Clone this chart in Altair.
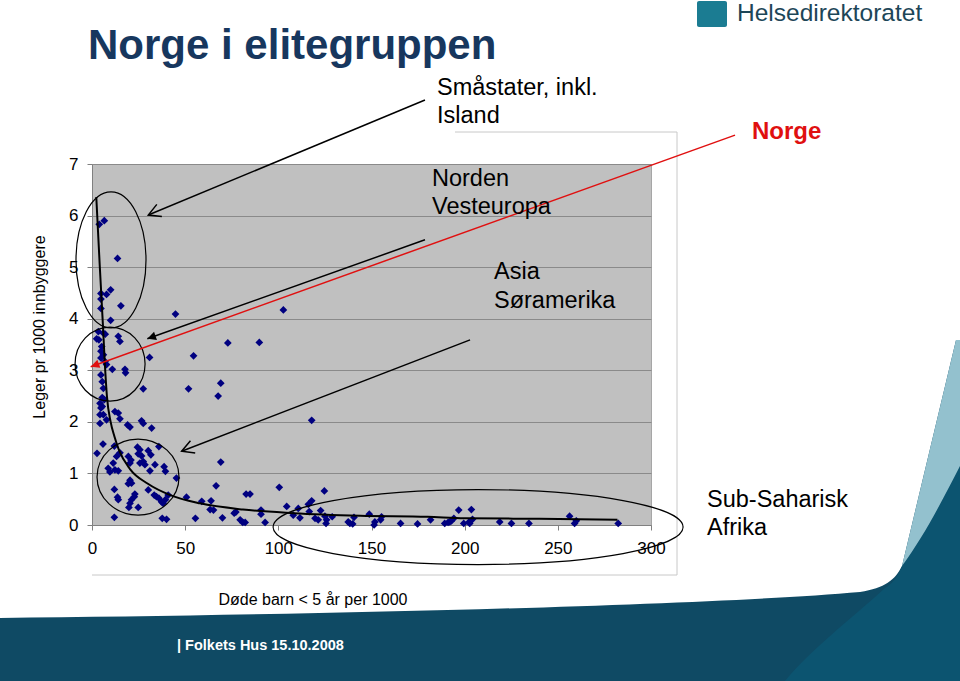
import math
import altair as alt
import pandas as pd

FONT = "Liberation Sans, Arial, Helvetica, sans-serif"

# ---------------- data ----------------
pt_x = [3.9, 6.6, 13.7, 4.8, 7.8, 10.0, 4.8, 4.8, 15.5, 10.0, 44.8, 102.7,
        14.1, 15.0, 30.9, 2.5, 3.7, 5.2, 4.8, 6.1, 4.8, 7.0, 7.8, 10.9, 17.7,
        18.0, 4.8, 5.5, 6.1, 27.5, 5.5, 6.6, 4.3, 5.5, 4.8, 4.3, 6.1, 7.8, 12.3,
        14.1, 15.0, 4.3, 19.1, 20.4, 26.6, 27.5, 32.0, 54.5, 72.9, 89.8, 51.8,
        69.1, 67.7, 117.9, 2.7, 5.9, 69.1, 7.1, 12.0, 15.0, 13.2, 11.4, 8.7,
        9.6, 12.3, 14.1, 19.5, 20.9, 20.4, 24.4, 25.7, 24.8, 26.6, 27.5, 25.7,
        28.4, 30.2, 31.6, 33.8, 35.9, 31.1, 38.7, 39.4, 45.3, 20.4, 21.2, 19.5,
        12.0, 13.7, 14.1, 23.0, 22.7, 21.2, 20.4, 19.8, 24.8, 30.2, 33.4, 34.6,
        35.9, 37.3, 38.2, 40.9, 39.4, 50.7, 12.0, 37.7, 40.0, 55.5, 66.6, 100.5,
        58.9, 63.9, 63.4, 65.2, 70.0, 76.3, 77.2, 79.5, 80.9, 82.2, 82.7, 84.8,
        90.7, 90.7, 92.9, 104.5, 108.0, 110.7, 111.6, 116.1, 117.9, 116.6,
        119.7, 121.4, 122.7, 124.7, 125.0, 125.6, 125.9, 128.9, 137.5, 138.4,
        139.9, 140.6, 148.8, 151.8, 151.4, 154.9, 155.4, 165.6, 174.7, 181.7,
        189.3, 191.1, 192.0, 192.9, 194.2, 196.8, 199.5, 202.4, 203.6, 204.2,
        202.7, 218.8, 225.1, 234.5, 256.3, 259.0, 259.9, 282.4, 3.4, 6.1]
pt_y = [5.83, 5.90, 5.17, 4.49, 4.47, 4.56, 4.38, 4.20, 4.25, 3.97, 4.09, 4.17,
        3.66, 3.56, 3.25, 3.61, 3.59, 3.46, 3.37, 3.30, 3.24, 3.17, 3.11, 3.02,
        3.02, 2.95, 2.91, 2.78, 2.65, 2.64, 2.47, 2.43, 2.36, 2.30, 2.27, 2.14,
        2.14, 2.04, 2.20, 2.17, 2.06, 1.97, 1.94, 1.90, 2.02, 1.97, 1.88, 3.28,
        3.53, 3.54, 2.64, 2.75, 2.50, 2.03, 1.39, 1.57, 1.22, 3.70, 1.53, 1.40,
        1.33, 1.20, 1.10, 1.03, 1.07, 1.05, 1.33, 1.26, 1.20, 1.51, 1.46, 1.38,
        1.34, 1.23, 1.20, 1.17, 1.44, 1.36, 1.17, 1.52, 1.05, 1.13, 1.04, 0.91,
        0.87, 0.81, 0.80, 0.69, 0.54, 0.49, 0.60, 0.55, 0.49, 0.42, 0.34, 0.34,
        0.68, 0.58, 0.55, 0.52, 0.45, 0.42, 0.58, 0.49, 0.54, 0.15, 0.13, 0.11,
        0.13, 0.76, 0.73, 0.46, 0.47, 0.30, 0.29, 0.14, 0.23, 0.25, 0.10, 0.05,
        0.05, 0.60, 0.60, 0.29, 0.21, 0.05, 0.36, 0.19, 0.32, 0.14, 0.40, 0.47,
        0.26, 0.13, 0.10, 0.28, 0.66, 0.17, 0.03, 0.10, 0.16, 0.06, 0.03, 0.02,
        0.15, 0.21, 0.06, 0.00, 0.10, 0.16, 0.03, 0.02, 0.10, 0.03, 0.05, 0.06,
        0.08, 0.13, 0.29, 0.03, 0.06, 0.30, 0.11, 0.03, 0.06, 0.03, 0.03, 0.17,
        0.03, 0.08, 0.03, 3.75, 3.72]

trend_x = [2.3, 4.2, 5.9, 6.5, 8.0, 10.0, 12.0, 14.5, 20.5, 30.0, 42.0, 58.0,
           81.0, 108.0, 144.0, 180.0, 200.0, 240.0, 282.0]
trend_y = [6.36, 5.0, 3.85, 3.4, 2.5, 2.0, 1.72, 1.45, 1.08, 0.80, 0.58, 0.42,
           0.30, 0.23, 0.18, 0.16, 0.13, 0.12, 0.10]

x_ticks = [0, 50, 100, 150, 200, 250, 300]
y_ticks = [0, 1, 2, 3, 4, 5, 6, 7]

# annotation ellipses: centre (data units) and radii (px)
ell_x = [10.2, 9.7, 24.7, 207.2]
ell_y = [5.14, 3.12, 0.93, -0.04]
ell_rx = [35, 35, 41, 205]
ell_ry = [68, 37, 38, 37.5]

# annotation arrows: tail -> tip (data units)
arr_x = [178.7, 178.7, 202.9, 345.1]
arr_y = [8.24, 5.53, 3.59, 7.56]
arr_x2 = [30.2, 29.7, 48.1, -0.7]
arr_y2 = [6.01, 3.61, 1.43, 3.07]
arr_col = ["black", "black", "black", "#e01010"]
arr_head = ["open", "filled", "open", "filled"]

# ---------------- geometry ----------------
L, T, W, H = 92, 164, 559, 361
XMAX, YMAX = 300, 7
SX, SY = W / XMAX, H / YMAX

xs = alt.Scale(domain=[0, XMAX], nice=False, zero=False)
ys = alt.Scale(domain=[0, YMAX], nice=False, zero=False)

X = alt.X("x:Q", scale=xs, title=None,
          axis=alt.Axis(values=x_ticks, grid=False, labelFontSize=17, labelFont=FONT,
                        labelColor="black", tickColor="#808080", tickSize=5,
                        domainColor="#808080", labelPadding=10, labelFlush=False,
                        labelOverlap=False, format="d"))
Y = alt.Y("y:Q", scale=ys, title=None,
          axis=alt.Axis(values=y_ticks, grid=True, gridColor="#8a8a8a", gridWidth=1,
                        labelFontSize=17, labelFont=FONT, labelColor="black",
                        tickColor="#808080", tickSize=5, domainColor="#808080",
                        labelPadding=9, labelOverlap=False, format="d"))


def vx(px):
    return alt.value(px - L)


def vy(py):
    return alt.value(py - T)


def norm_path(cmds, cx, cy, s):
    out = []
    for c, pts in cmds:
        out.append(c + " ".join(f"{(px - cx) / s:.4f},{(py - cy) / s:.4f}" for px, py in pts))
    return "".join(out)


def deco_shape(cmds, color, cx=480, cy=510, s=480):
    path = norm_path(cmds, cx, cy, s)
    return alt.Chart(pd.DataFrame({"d": [0]})).mark_point(
        shape=path, size=(2 * s) ** 2, filled=True, fill=color, strokeWidth=0, opacity=1
    ).encode(x=vx(cx), y=vy(cy))


def text(txt, px, py, size, color="black", weight="normal", align="left", angle=0, font=FONT):
    return alt.Chart(pd.DataFrame({"d": [0]})).mark_text(
        text=txt, fontSize=size, color=color, fontWeight=weight, align=align,
        baseline="middle", angle=angle, font=font
    ).encode(x=vx(px), y=vy(py))


def hline(x1, x2, y, color="#c8c8c8"):
    return alt.Chart(pd.DataFrame({"d": [0]})).mark_rule(color=color, strokeWidth=1).encode(
        x=vx(x1), x2=vx(x2), y=vy(y))


def vline(x, y1, y2, color="#c8c8c8"):
    return alt.Chart(pd.DataFrame({"d": [0]})).mark_rule(color=color, strokeWidth=1).encode(
        x=vx(x), y=vy(y1), y2=vy(y2))


layers = []

# footer decoration
layers.append(deco_shape([
    ("M", [(0, 618)]), ("C", [(300, 615), (700, 606), (860, 592)]),
    ("C", [(885, 588), (895, 580), (902, 566)]), ("L", [(956, 340)]), ("L", [(960, 340)]),
    ("L", [(960, 681)]), ("L", [(0, 681)]), ("Z", [])], "#0f4a64"))
layers.append(deco_shape([
    ("M", [(885, 588)]), ("C", [(850, 620), (810, 650), (785, 681)]), ("L", [(960, 681)]),
    ("L", [(960, 466)]), ("C", [(945, 495), (925, 535), (902, 566)]),
    ("C", [(897, 578), (892, 584), (885, 588)]), ("Z", [])], "#0c5470"))
layers.append(deco_shape([
    ("M", [(902, 566)]), ("L", [(956, 340)]), ("L", [(960, 340)]), ("L", [(960, 466)]),
    ("C", [(945, 495), (925, 535), (902, 566)]), ("Z", [])], "#93c1ce"))

# chart-area frame
layers += [hline(455, 677, 132), vline(677, 132, 575), hline(92, 677, 575)]

# logo
layers.append(alt.Chart(pd.DataFrame({"d": [0]})).mark_rect(color="#1b7c92", cornerRadius=2)
              .encode(x=vx(697), x2=vx(727), y=vy(1), y2=vy(27)))
layers.append(text("Helsedirektoratet", 737, 14, 24.5, color="#1d4658"))

# chart data
pts = pd.DataFrame({"x": pt_x, "y": pt_y})
trend = pd.DataFrame({"x": trend_x, "y": trend_y})

layers.append(alt.Chart(pts).mark_point(shape="diamond", filled=True, size=60,
                                        color="#000080", opacity=1).encode(x=X, y=Y))
layers.append(alt.Chart(trend).mark_line(color="black", strokeWidth=2, interpolate="monotone")
              .encode(x="x:Q", y="y:Q"))

# ellipses
ell = pd.DataFrame({
    "x": ell_x, "y": ell_y,
    "shape": [f"M-1,0A1,{ry / rx:.4f},0,1,0,1,0A1,{ry / rx:.4f},0,1,0,-1,0Z"
              for rx, ry in zip(ell_rx, ell_ry)],
    "size": [(2 * rx) ** 2 for rx in ell_rx],
})
layers.append(alt.Chart(ell).mark_point(filled=False, color="black", strokeWidth=1.2, opacity=1)
              .encode(x="x:Q", y="y:Q", shape=alt.Shape("shape:N", scale=None),
                      size=alt.Size("size:Q", scale=None)))

# arrows
ang = []
for a, b, c, d in zip(arr_x, arr_y, arr_x2, arr_y2):
    dx = (c - a) * SX
    dy = -(d - b) * SY
    ang.append(math.degrees(math.atan2(dy, dx)) % 360)
arr = pd.DataFrame({"x": arr_x, "y": arr_y, "x2": arr_x2, "y2": arr_y2,
                    "c": arr_col, "h": arr_head, "a": ang})
layers.append(alt.Chart(arr).mark_rule(strokeWidth=1.5)
              .encode(x="x:Q", y="y:Q", x2="x2:Q", y2="y2:Q", color=alt.Color("c:N", scale=None)))
layers.append(alt.Chart(arr[arr.h == "open"]).mark_point(
    shape="M-1,-0.55L0,0L-1,0.55", filled=False, size=576, strokeWidth=1.5, opacity=1)
    .encode(x=alt.X("x2:Q"), y=alt.Y("y2:Q"), color=alt.Color("c:N", scale=None),
            angle=alt.Angle("a:Q", scale=None)))
layers.append(alt.Chart(arr[arr.h == "filled"]).mark_point(
    shape="M0,0L-1,-0.5L-1,0.5Z", filled=True, size=300, opacity=1)
    .encode(x=alt.X("x2:Q"), y=alt.Y("y2:Q"), color=alt.Color("c:N", scale=None),
            angle=alt.Angle("a:Q", scale=None)))

# texts
layers += [
    text("Norge i elitegruppen", 88, 46, 42, color="#17375e", weight="bold"),
    text("Småstater, inkl.", 437, 88, 23.5),
    text("Island", 437, 116, 23.5),
    text("Norden", 432, 179, 23.5),
    text("Vesteuropa", 432, 207, 23.5),
    text("Asia", 494, 272, 23.5),
    text("Søramerika", 494, 301, 23.5),
    text("Sub-Saharisk", 707, 500, 23.5),
    text("Afrika", 707, 528, 23.5),
    text("Norge", 752, 132, 24, color="#e01010", weight="bold"),
    text("Leger pr 1000 innbyggere", 40, 327, 16, align="center", angle=270),
    text("Døde barn < 5 år per 1000", 313, 600, 16, align="center"),
    text("| Folkets Hus 15.10.2008", 177, 646, 14.5, color="white", weight="bold"),
]

chart = alt.layer(*layers).properties(
    width=W, height=H,
    padding={"left": L, "top": T, "right": 960 - L - W, "bottom": 681 - T - H},
    autosize="none", background="white",
).configure_view(fill="#c0c0c0", stroke="#a6a6a6")

chart.save("out.html", embed_options={"renderer": "svg", "actions": False})
